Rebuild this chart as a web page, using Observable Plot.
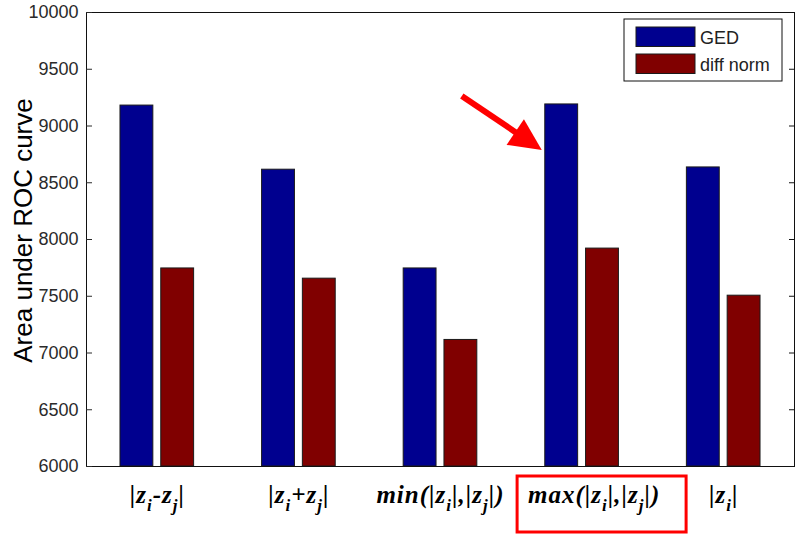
<!DOCTYPE html>
<html>
<head>
<meta charset="utf-8">
<script src="https://cdn.jsdelivr.net/npm/d3@7"></script>
<script src="https://cdn.jsdelivr.net/npm/@observablehq/plot@0.6"></script>
<style>
  html, body { margin: 0; padding: 0; background: #fff; }
  svg { display: block; }
</style>
</head>
<body>
<div id="chart"></div>
<script>
// ---- data ----
const categories = ["|z_i-z_j|", "|z_i+z_j|", "min(|z_i|,|z_j|)", "max(|z_i|,|z_j|)", "|z_i|"];
const series = ["GED", "diff norm"];
const gedValues = [9180, 8615, 7745, 9190, 8635];
const diffNormValues = [7745, 7655, 7115, 7920, 7505];
const yTicks = [6000, 6500, 7000, 7500, 8000, 8500, 9000, 9500, 10000];
const yDomain = [6000, 10000];
const highlighted = "max(|z_i|,|z_j|)";
const yLabel = "Area under ROC curve";

// ---- styles ----
const colors = ["#00008f", "#800000"];
const sans = "'Liberation Sans', Arial, Helvetica, sans-serif";
const serif = "'Liberation Serif', 'Times New Roman', serif";

const rows = categories.flatMap((c, i) => [
  {category: c, pos: i + 1, series: series[0], value: gedValues[i]},
  {category: c, pos: i + 1, series: series[1], value: diffNormValues[i]}
]);

const barOffsets = {"GED": [-0.26, -0.028], "diff norm": [0.028, 0.26]};

const labelOpts = {
  x: c => categories.indexOf(c) + 1,
  frameAnchor: "bottom",
  textAnchor: "middle",
  dy: 36,
  lineAnchor: "bottom",
  fontSize: 25,
  fontFamily: serif,
  fontWeight: "bold",
  fontStyle: "italic",
  fill: "#000"
};

const plot = Plot.plot({
  width: 800,
  height: 538,
  marginLeft: 86,
  marginRight: 6,
  marginTop: 12,
  marginBottom: 72,
  style: {background: "#fff", fontFamily: sans, color: "#111"},
  x: {type: "linear", domain: [0.5, categories.length + 0.5], axis: null},
  y: {domain: yDomain, label: null},
  color: {domain: series, range: colors},
  marks: [
    Plot.rect(rows, {
      x1: d => d.pos + barOffsets[d.series][0],
      x2: d => d.pos + barOffsets[d.series][1],
      y1: () => yDomain[0],
      y2: "value",
      fill: "series",
      stroke: "#1a1a1a",
      strokeWidth: 1
    }),
    Plot.frame({stroke: "#111", strokeWidth: 1}),
    Plot.axisY({anchor: "left", ticks: yTicks, tickSize: -6, tickPadding: 14,
      fontSize: 18, tickFormat: d => String(d), label: null, color: "#2a2a2a"}),
    Plot.axisY({anchor: "right", ticks: yTicks, tickSize: -6,
      tickFormat: () => "", label: null}),
    Plot.text(categories.filter(c => c !== highlighted), labelOpts),
    Plot.text(categories.filter(c => c === highlighted), {...labelOpts, dx: 12}),
    Plot.text([yLabel], {frameAnchor: "left", textAnchor: "middle", rotate: -90, dx: -63, dy: -9,
      fontSize: 26, fontFamily: sans, fill: "#000"})
  ]
});

document.getElementById("chart").appendChild(plot);

// ---- subscripts in category labels ----
const svgSel = d3.select(plot);
svgSel.selectAll("text").filter(function() {
  return categories.includes(this.textContent);
}).each(function() {
  const raw = this.textContent;
  const el = d3.select(this);
  el.text(null).style("letter-spacing", "1px");
  const parts = raw.split(/(_.)/);
  let wasSub = false;
  for (const p of parts) {
    if (!p) continue;
    if (p[0] === "_") {
      el.append("tspan").attr("dy", 8).attr("font-size", 17).text(p[1]);
      wasSub = true;
    } else {
      const t = el.append("tspan").text(p);
      if (wasSub) t.attr("dy", -8);
      wasSub = false;
    }
  }
});

// ---- annotations: red box + arrow ----
const xS = plot.scale("x"), yS = plot.scale("y");
const hiIdx = categories.indexOf(highlighted);
const hiX = xS.apply(hiIdx + 1);
const frameBottom = yS.apply(yDomain[0]);
const frameTop = yS.apply(yDomain[1]);
const frameRight = xS.apply(categories.length + 0.5);
const ann = svgSel.append("g").attr("aria-label", "annotations");

ann.append("rect")
  .attr("x", hiX - 64.5).attr("y", frameBottom + 10)
  .attr("width", 169).attr("height", 56)
  .attr("fill", "none").attr("stroke", "#ff0000").attr("stroke-width", 3);

const barLeft = xS.apply(hiIdx + 1 + barOffsets[series[0]][0]);
const barTop = yS.apply(gedValues[hiIdx]);
const tip = [barLeft - 3, barTop + 46];
const ang = Math.atan2(54, 80);
const u = [Math.cos(ang), Math.sin(ang)], nrm = [-u[1], u[0]];
const headLen = 32, halfW = 15.5, totalLen = 96.5;
const base = [tip[0] - u[0] * headLen, tip[1] - u[1] * headLen];
const tail = [tip[0] - u[0] * totalLen, tip[1] - u[1] * totalLen];
ann.append("line")
  .attr("x1", tail[0]).attr("y1", tail[1])
  .attr("x2", base[0] + u[0] * 2).attr("y2", base[1] + u[1] * 2)
  .attr("stroke", "#ff0000").attr("stroke-width", 6);
ann.append("polygon")
  .attr("points", [tip, [base[0] + nrm[0] * halfW, base[1] + nrm[1] * halfW],
    [base[0] - nrm[0] * halfW, base[1] - nrm[1] * halfW]].map(p => p.join(",")).join(" "))
  .attr("fill", "#ff0000");

// ---- legend ----
const lg = svgSel.append("g").attr("aria-label", "legend")
  .attr("transform", `translate(${frameRight - 170},${frameTop + 7})`);
lg.append("rect").attr("width", 158).attr("height", 62)
  .attr("fill", "#fff").attr("stroke", "#111").attr("stroke-width", 1);
series.forEach((s, i) => {
  const yy = 8 + i * 27;
  lg.append("rect").attr("x", 12).attr("y", yy).attr("width", 59).attr("height", 19.5)
    .attr("fill", colors[i]).attr("stroke", "#1a1a1a").attr("stroke-width", 1);
  lg.append("text").attr("x", 76).attr("y", yy + 16.5).attr("text-anchor", "start")
    .attr("font-family", sans).attr("font-size", 18).attr("fill", "#222").text(s);
});
</script>
</body>
</html>
